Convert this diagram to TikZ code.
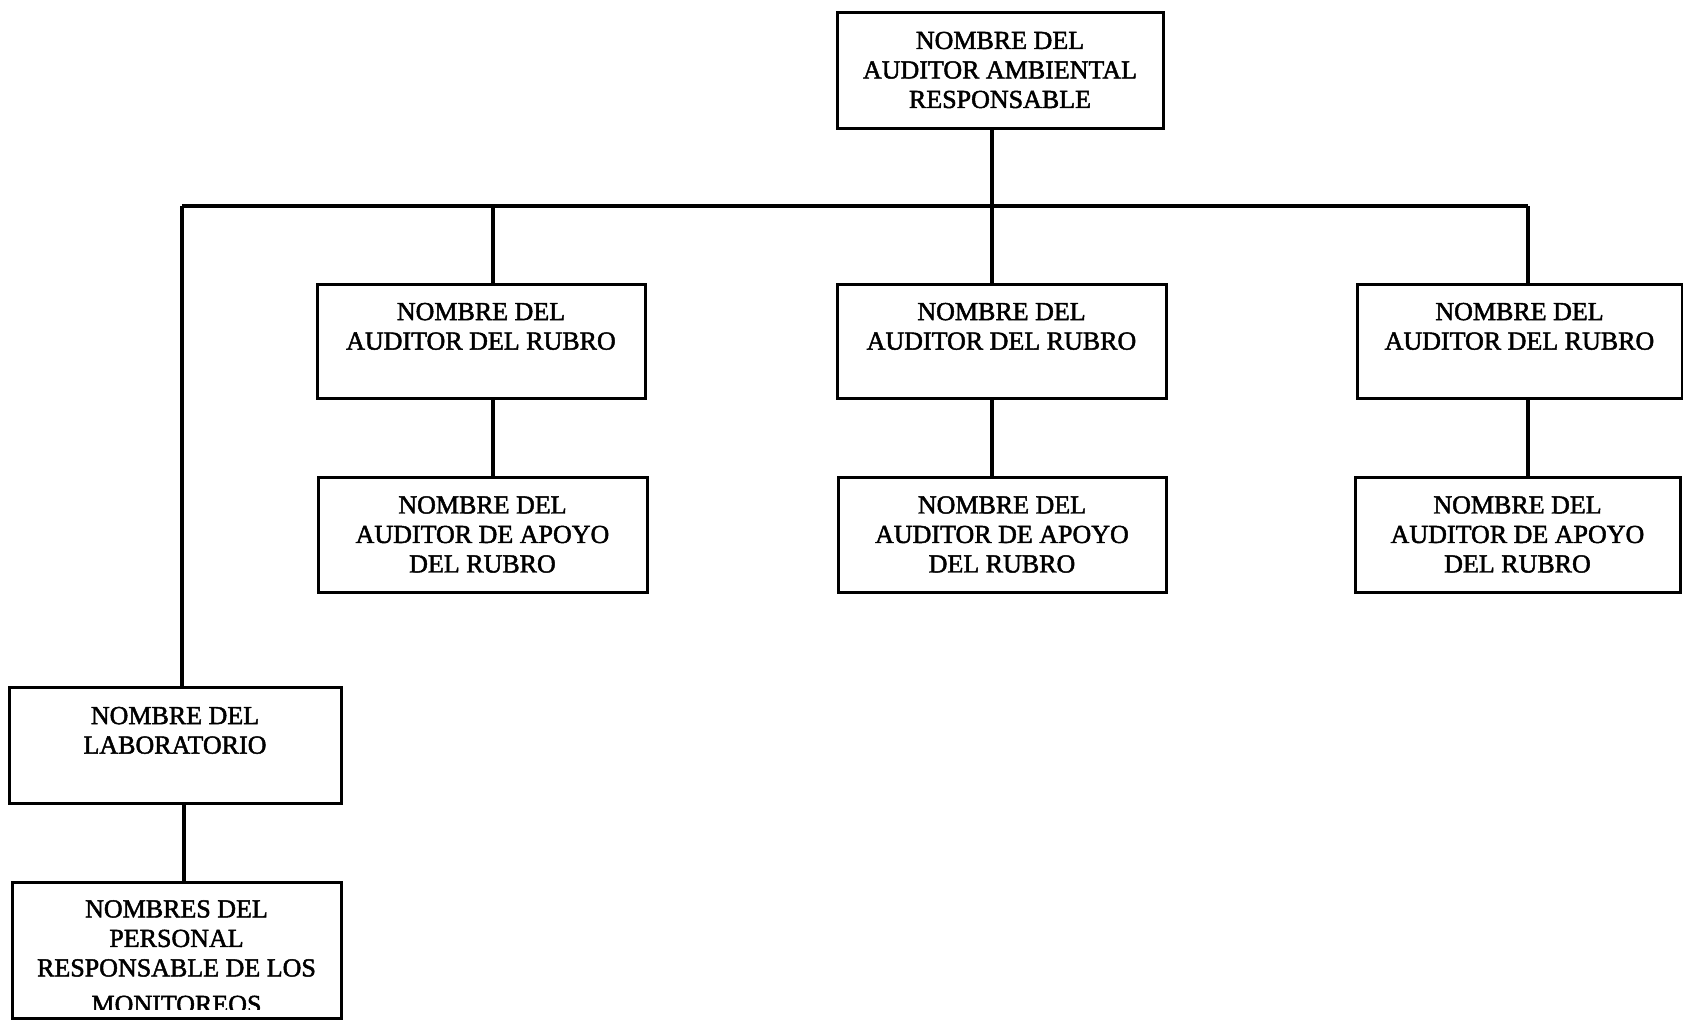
\documentclass[tikz,border=0pt]{standalone}
\usepackage{fontspec}
\setmainfont[AutoFakeBold=1.8]{Liberation Serif}
\begin{document}
\begin{tikzpicture}[x=1pt,y=-1pt,
  orgbox/.style={draw, line width=3pt, inner sep=0pt, align=center,
    font=\bfseries\fontsize{26}{29.5}\selectfont},
  txtonly/.style={inner sep=0pt, align=center, font=\bfseries\fontsize{26}{29.5}\selectfont},
  conn/.style={line width=3.2pt}]
\useasboundingbox (0,0) rectangle (1683,1020);
% boxes
\node[orgbox, minimum width=326pt, minimum height=116pt] (top) at (1000,70)
  {NOMBRE DEL\\AUDITOR AMBIENTAL\\RESPONSABLE};
\node[orgbox, minimum width=328pt, minimum height=114pt] (b1) at (481,341)
  {NOMBRE DEL\\AUDITOR DEL RUBRO\\\mbox{}};
\node[orgbox, minimum width=329pt, minimum height=114pt] (b2) at (1001.5,341)
  {NOMBRE DEL\\AUDITOR DEL RUBRO\\\mbox{}};
\node[orgbox, minimum width=325pt, minimum height=114pt] (b3) at (1519.5,341)
  {NOMBRE DEL\\AUDITOR DEL RUBRO\\\mbox{}};
\node[orgbox, minimum width=329pt, minimum height=115pt] (c1) at (482.5,534.5)
  {NOMBRE DEL\\AUDITOR DE APOYO\\DEL RUBRO};
\node[orgbox, minimum width=328pt, minimum height=115pt] (c2) at (1002,534.5)
  {NOMBRE DEL\\AUDITOR DE APOYO\\DEL RUBRO};
\node[orgbox, minimum width=325pt, minimum height=115pt] (c3) at (1517.5,534.5)
  {NOMBRE DEL\\AUDITOR DE APOYO\\DEL RUBRO};
\node[orgbox, minimum width=332pt, minimum height=116pt] (lab) at (175,745)
  {NOMBRE DEL\\LABORATORIO\\\mbox{}};
\node[orgbox, minimum width=329pt, minimum height=136pt] (mon) at (176.5,950) {};
\begin{scope}
  \clip (0,870) rectangle (400,1009);
  \node[txtonly, anchor=north] (montxt) at (176.5,900)
    {NOMBRES DEL\\PERSONAL\\RESPONSABLE DE LOS\\[7pt]MONITOREOS};
\end{scope}
% connectors
\coordinate (busL) at (182,206);
\coordinate (busR) at (1528,206);
\draw[conn] (busL) -- (busR);
\draw[conn] ([xshift=-8pt]top.south) -- ([xshift=-9.5pt]b2.north);
\draw[conn] ([xshift=12pt]b1.north |- busL) -- ([xshift=12pt]b1.north);
\draw[conn] (busR) -- (busR |- b3.north);
\draw[conn] (busL) -- (busL |- lab.north);
\draw[conn] ([xshift=12pt]b1.south) -- ([xshift=10.5pt]c1.north);
\draw[conn] ([xshift=-9.5pt]b2.south) -- ([xshift=-10pt]c2.north);
\draw[conn] ([xshift=8.5pt]b3.south) -- ([xshift=10.5pt]c3.north);
\draw[conn] ([xshift=9pt]lab.south) -- ([xshift=9pt]lab.south |- mon.north);
\end{tikzpicture}
\end{document}
